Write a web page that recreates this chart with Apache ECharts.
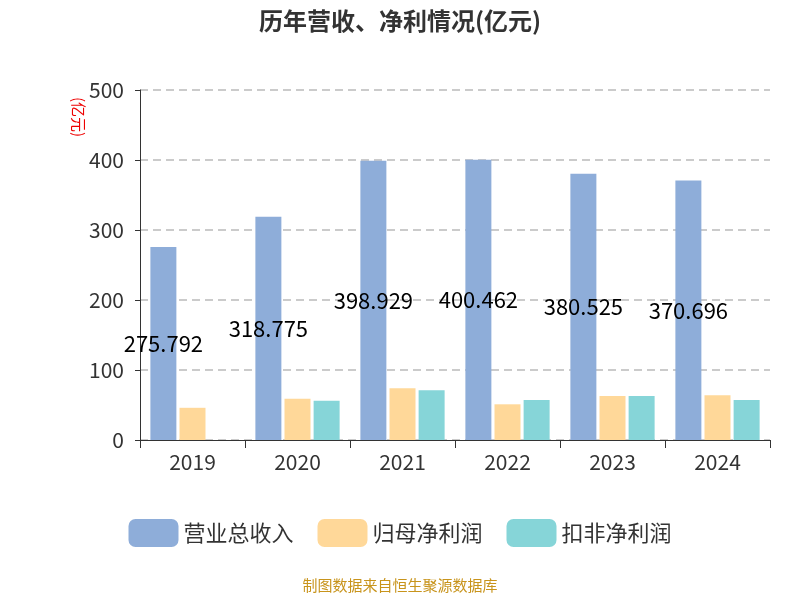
<!DOCTYPE html>
<html><head><meta charset="utf-8">
<script src="https://cdn.jsdelivr.net/npm/echarts@6/dist/echarts.min.js"></script>
<style>html,body{margin:0;padding:0;background:#fff}#c{width:800px;height:600px}</style>
</head><body><div id="c"></div>
<script>
const years = ['2019','2020','2021','2022','2023','2024'];
const revenue = [275.792, 318.775, 398.929, 400.462, 380.525, 370.696];
const netProfit = [46, 59, 74, 51, 63, 64];
const deductedProfit = [null, 56, 71, 57, 63, 57];
const yTicks = [0, 100, 200, 300, 400, 500];

const chart = echarts.init(document.getElementById('c'));
chart.setOption({
  textStyle: {fontFamily: 'Noto Sans CJK SC'},
  title: {text: '历年营收、净利情况(亿元)', left: 'center', top: 4,
    textStyle: {fontSize: 24, fontWeight: 'bold', color: '#333', fontFamily: 'Noto Sans CJK SC'}},
  graphic: [{type: 'text', left: 'center', top: 578,
    style: {text: '制图数据来自恒生聚源数据库', fill: '#C8941C', fontSize: 15, fontFamily: 'Noto Sans CJK SC'}},
    {type: 'text', x: 86, y: 97, rotation: -Math.PI/2,
    style: {text: '(亿元)', fill: '#e00', fontSize: 15, fontFamily: 'Noto Sans CJK SC'}}],
  legend: {bottom: 48, itemWidth: 50, itemHeight: 28, itemGap: 24,
    textStyle: {fontSize: 22, color: '#333', fontFamily: 'Noto Sans CJK SC'},
    data: ['营业总收入', '归母净利润', '扣非净利润']},
  grid: {left: 140, right: 30, top: 90, bottom: 160},
  xAxis: {type: 'category', data: years,
    axisLine: {lineStyle: {color: '#333'}}, axisTick: {show: true, length: 8},
    axisLabel: {fontSize: 21, color: '#333', margin: 12, fontFamily: 'Noto Sans CJK SC'}},
  yAxis: {type: 'value', min: 0, max: 500, interval: 100,
    axisLine: {show: true, lineStyle: {color: '#333'}}, axisTick: {show: true},
    axisLabel: {fontSize: 21, color: '#333', margin: 16, fontFamily: 'Noto Sans CJK SC', formatter: v => yTicks.includes(v) ? v : ''},
    splitLine: {lineStyle: {type: [8, 5], color: '#bbb', width: 1.5}}},
  series: [
    {name: '营业总收入', type: 'bar', data: revenue, barWidth: 26, barGap: '12%',
     itemStyle: {color: '#8EADD9'},
     label: {show: true, position: 'inside', fontSize: 22, color: '#000', fontFamily: 'Noto Sans CJK SC'}, z: 3},
    {name: '归母净利润', type: 'bar', data: netProfit, barWidth: 26, barGap: '12%', itemStyle: {color: '#FFD899'}},
    {name: '扣非净利润', type: 'bar', data: deductedProfit, barWidth: 26, barGap: '12%', itemStyle: {color: '#86D5D8'}}
  ]
});
</script></body></html>
